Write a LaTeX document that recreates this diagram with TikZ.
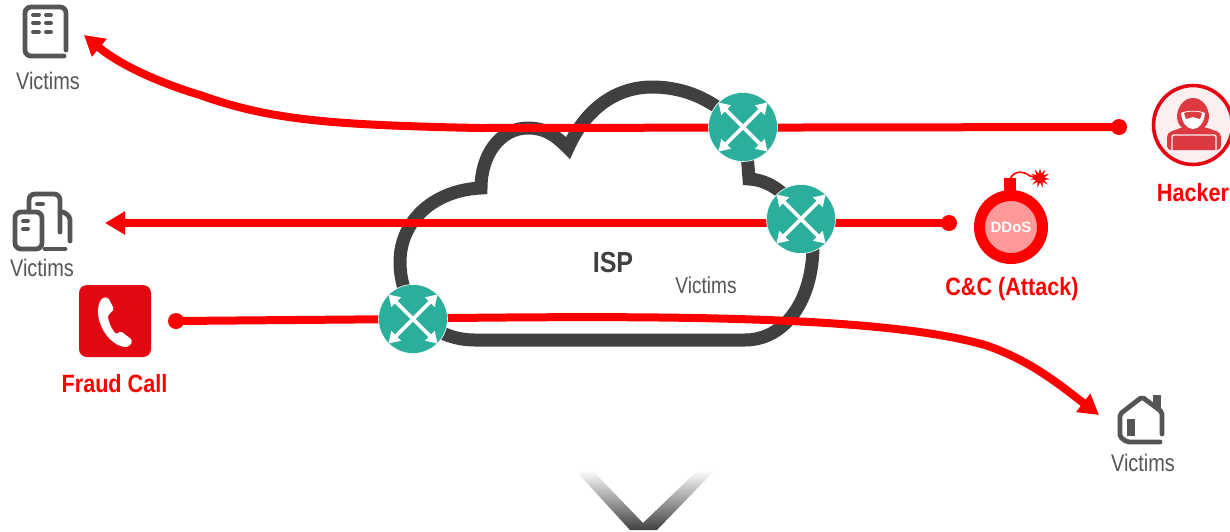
\documentclass[tikz,border=0pt]{standalone}
\usepackage{fontspec}
\setmainfont{Liberation Sans}
\newfontfamily\narrowfont[FakeStretch=0.83]{Liberation Sans}
\newfontfamily\boldnarrowfont[FakeStretch=0.865]{Liberation Sans Bold}
\usepackage{tikz}
\usetikzlibrary{arrows.meta,positioning,shapes.geometric}
\definecolor{cloudgray}{HTML}{404040}
\definecolor{icongray}{HTML}{555555}
\definecolor{routergreen}{HTML}{2BAF9C}
\definecolor{labelred}{HTML}{FF0000}
\definecolor{phonered}{HTML}{E30613}
\definecolor{hackerred}{HTML}{DC3A40}
\tikzset{
cloudline/.style={draw=cloudgray,line width=13pt,line join=miter},
redline/.style={draw=labelred,line width=8pt},
redtip/.style={-{Triangle[length=20pt,width=22pt]}},
reddot/.style={circle,fill=labelred,inner sep=0pt,minimum size=16pt},
router/.style={circle,fill=routergreen,draw=white,line width=.6pt,inner sep=0pt,minimum size=69pt},
routerarrow/.style={{Triangle[length=11pt,width=13pt]}-{Triangle[length=11pt,width=13pt]},draw=white,line width=3.6pt},
iconline/.style={draw=icongray,line width=4.8pt,line cap=round,rounded corners=6pt},
iconbar/.style={draw=icongray,line width=3.8pt,line cap=round},
victimlabel/.style={text=icongray,font=\narrowfont\fontsize{24}{24}\selectfont,inner sep=0pt},
redlabel/.style={text=labelred,font=\boldnarrowfont\fontsize{25}{25}\selectfont,inner sep=0pt},
}
\begin{document}
\begin{tikzpicture}[x=1pt,y=-1pt]
	\useasboundingbox (0,0) rectangle (1230,531);
	\coordinate (routerhackerpos) at (743,127);
	\coordinate (routerddospos) at (801,219);
	\coordinate (routerfraudpos) at (413,319);
	% cloud
	\draw[cloudline] (740,127) .. controls (715,100) and (685,87) .. (652,87)
		.. controls (615,87) and (585,110) .. (568,148)
		.. controls (555,135) and (545,128) .. (528,128)
		.. controls (500,128) and (481,155) .. (481,188)
		.. controls (435,190) and (400,220) .. (400,262)
		.. controls (400,305) and (430,340) .. (475,340)
		-- (745,340)
		.. controls (785,340) and (813,300) .. (813,245);
	\draw[cloudline] (801,219) .. controls (790,195) and (770,180) .. (749,179)
		-- (746,140);
	\node[font=\boldnarrowfont\fontsize{29}{29}\selectfont,text=cloudgray,inner sep=0pt] (isp) at (613,263) {ISP};
	\node[victimlabel,font=\narrowfont\fontsize{23}{23}\selectfont] (victimscloud) at (706,285) {Victims};
	% end points
	\node[reddot] (hackerdot) at (1119,127) {};
	\node[reddot] (ddosdot) at (949,223) {};
	\node[reddot] (frauddot) at (176,321) {};
	\coordinate (officetip) at (84,35);
	\coordinate (towertip) at (105,223);
	\coordinate (housetip) at (1099,415);
	% red lines
	\draw[redline,redtip] (hackerdot.center) -- (480,128)
		.. controls (330,125) and (270,120) .. (200,95)
		.. controls (160,83) and (120,65) .. (officetip);
	\draw[redline,redtip] (ddosdot.center) -- (towertip);
	\draw[redline,redtip] (frauddot.center) -- (routerfraudpos) -- (450,318)
		.. controls (650,316) and (880,315) .. (985,345)
		.. controls (1030,360) and (1060,385) .. (housetip);
	% routers
	\foreach \routername in {routerhacker,routerddos,routerfraud}{
		\node[router] (\routername) at (\routername pos) {};
		\draw[routerarrow] (\routername.north west) -- (\routername.south east);
		\draw[routerarrow] (\routername.south west) -- (\routername.north east);
	}
	% office
	\draw[iconline] (66,50) -- (66,7) -- (25,7) -- (25,56) -- (64,56);
	\foreach \rowy in {15,23,32}{
		\draw[iconbar] (33,\rowy) -- (39,\rowy);
		\draw[iconbar] (46,\rowy) -- (51,\rowy);
	}
	\node[victimlabel] (victimsoffice) at (48,81) {Victims};
	% towers
	\draw[iconline] (29,210) -- (29,194) -- (60,194) -- (60,232);
	\draw[iconline] (15,212) -- (42,212) -- (42,249) -- (15,249) -- cycle;
	\draw[iconline,rounded corners=4pt] (63,212) -- (70,216) -- (70,241);
	\draw[iconline,rounded corners=3pt] (45,249) -- (65,249);
	\draw[iconbar] (37,204) -- (43,204);
	\draw[iconbar] (23,221) -- (28,221);
	\draw[iconbar] (23,229) -- (28,229);
	\node[victimlabel] (victimstower) at (42,268) {Victims};
	% house
	\draw[iconline,rounded corners=2pt] (1162,434) -- (1162,412) -- (1142,397) -- (1120,414) -- (1120,437) -- (1127,442) -- (1160,442);
	\fill[icongray] (1153,395) rectangle (1161,408);
	\fill[icongray] (1127,419) rectangle (1135,436);
	\node[victimlabel] (victimshouse) at (1143,463) {Victims};
	% phone
	\node[fill=phonered,rounded corners=8pt,inner sep=0pt,minimum size=72pt] (phonebox) at (115,321) {};
	\fill[white] (103,298) .. controls (97,302) and (97,315) .. (100,323)
		.. controls (104,335) and (115,347) .. (126,347)
		.. controls (131,346) and (133,342) .. (131,339)
		-- (122,332) .. controls (119,331) and (117,335) .. (115,333)
		.. controls (111,328) and (108,321) .. (108,316)
		.. controls (110,312) and (115,311) .. (113,307)
		-- (109,299) .. controls (107,297) and (105,297) .. (103,298);
	\node[redlabel] (fraudlabel) at (114.5,384) {Fraud Call};
	% bomb
	\fill[labelred] (1004,178) rectangle (1016,200);
	\draw[labelred,line width=1.6pt] (1010,179) .. controls (1014,170) and (1024,171) .. (1030,176) -- (1040,179);
	\node[star,star points=11,star point ratio=2.2,fill=labelred,inner sep=0pt,minimum size=20pt] (spark) at (1040,178) {};
	\node[circle,draw=labelred,line width=11pt,fill=labelred!40,inner sep=0pt,minimum size=63pt,text=white,font=\bfseries\fontsize{15}{15}\selectfont] (bomb) at (1011,227) {\raisebox{-3pt}{DDoS}};
	\node[redlabel] (ddoslabel) at (1012,289.5) {C\&C (Attack)};
	% hacker
	\node[circle,draw=phonered,fill=hackerred!8,line width=3.6pt,inner sep=0pt,minimum size=79pt] (hackerbadge) at (1193,125) {};
	\fill[hackerred,rounded corners=4pt] (1167,150) -- (1167,133) -- (1183,127) -- (1205,127) -- (1221,133) -- (1221,150) -- cycle;
	\draw[hackerred!8,line width=1.4pt,rounded corners=2pt] (1172,150) -- (1172,135) -- (1216,135) -- (1216,150);
	\fill[hackerred] (1193,98) .. controls (1183,98) and (1177,108) .. (1177,117)
		.. controls (1177,123) and (1181,128) .. (1186,131)
		-- (1200,131) .. controls (1205,128) and (1209,123) .. (1209,117)
		.. controls (1209,108) and (1203,98) .. (1193,98) -- cycle;
	\fill[white] (1181,113) .. controls (1187,110) and (1199,110) .. (1205,113)
		.. controls (1204,123) and (1199,129) .. (1193,129)
		.. controls (1187,129) and (1182,123) .. (1181,113) -- cycle;
	\fill[hackerred] (1184,113) .. controls (1189,111) and (1197,111) .. (1202,113)
		-- (1200,119) -- (1193,117) -- (1186,119) -- cycle;
	\node[redlabel] (hackerlabel) at (1193,193) {Hacker};
	% chevron
	\shade[top color=white,middle color=black!25,bottom color=cloudgray] (575,470) -- (592,470) -- (643,523) -- (698,470) -- (715,470) -- (657,530) -- (630,530) -- cycle;
\end{tikzpicture}
\end{document}
